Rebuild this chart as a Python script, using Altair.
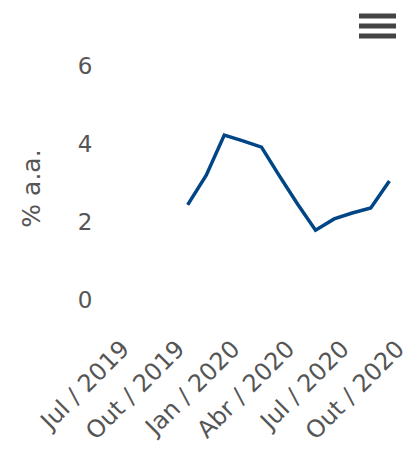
import altair as alt
import pandas as pd

# Monthly data (Oct 2019 - Sep 2020), % a.a.
months = ["2019-10-01", "2019-11-01", "2019-12-01", "2020-01-01", "2020-02-01", "2020-03-01",
          "2020-04-01", "2020-05-01", "2020-06-01", "2020-07-01", "2020-08-01", "2020-09-01"]
values = [2.44, 3.2, 4.23, 4.08, 3.92, 3.2, 2.46, 1.79, 2.08, 2.23, 2.36, 3.05]

tick_dates = ["2019-07-01", "2019-10-01", "2020-01-01", "2020-04-01", "2020-07-01", "2020-10-01"]
month_names = ["Jan", "Fev", "Mar", "Abr", "Mai", "Jun", "Jul", "Ago", "Set", "Out", "Nov", "Dez"]
y_ticks = [0, 2, 4, 6]

df = pd.DataFrame({"date": months, "value": values})

FONT = "DejaVu Sans"
LABEL_COLOR = "#555555"

def dt(s):
    y, m, d = (int(p) for p in s.split("-"))
    return alt.DateTime(year=y, month=m, date=d, utc=True)

label_expr = "[" + ",".join("'%s'" % m for m in month_names) + "][utcmonth(datum.value)] + ' / ' + utcyear(datum.value)"

line = alt.Chart(df).mark_line(color="#004585", strokeWidth=3.5, clip=False).encode(
    x=alt.X(
        "date:T",
        scale=alt.Scale(type="utc", domain=[dt("2019-05-08"), dt("2020-10-02")]),
        axis=alt.Axis(
            values=[dt(s) for s in tick_dates],
            labelExpr=label_expr,
            labelAngle=-45,
            labelAlign="right",
            labelBaseline="alphabetic",
            labelPadding=50,
            labelOffset=-2,
            labelFontSize=24,
            labelFont=FONT,
            labelColor=LABEL_COLOR,
            labelOverlap=False,
            labelBound=False,
            domain=False,
            ticks=False,
            grid=False,
            title=None,
        ),
    ),
    y=alt.Y(
        "value:Q",
        scale=alt.Scale(domain=[0, 6], nice=False, zero=True),
        axis=alt.Axis(
            values=y_ticks,
            labelFontSize=23,
            labelFont=FONT,
            labelColor=LABEL_COLOR,
            labelPadding=8,
            domain=False,
            ticks=False,
            grid=False,
            title="% a.a.",
            titleFont=FONT,
            titleFontSize=25,
            titleFontWeight="normal",
            titleColor=LABEL_COLOR,
            titleAngle=-90,
            titleAlign="center",
            titleBaseline="middle",
            titleX=-69,
            titleY=122,
        ),
    ),
)

# menu icon (decorative)
icon_df = pd.DataFrame({"k": [0, 1, 2], "yy": [-50, -40, -30]})
icon = alt.Chart(icon_df).mark_rule(color="#444444", strokeWidth=5, clip=False).encode(
    x=alt.value(259), x2=alt.value(296), y=alt.Y("yy:Q", scale=None)
)

chart = alt.layer(line, icon).properties(
    width=308,
    height=234,
    autosize=alt.AutoSizeParams(type="none"),
    padding={"left": 92, "top": 58, "right": 0, "bottom": 148},
).configure_view(stroke=None)

chart.save("out.html", embed_options={"renderer": "svg", "actions": False})
